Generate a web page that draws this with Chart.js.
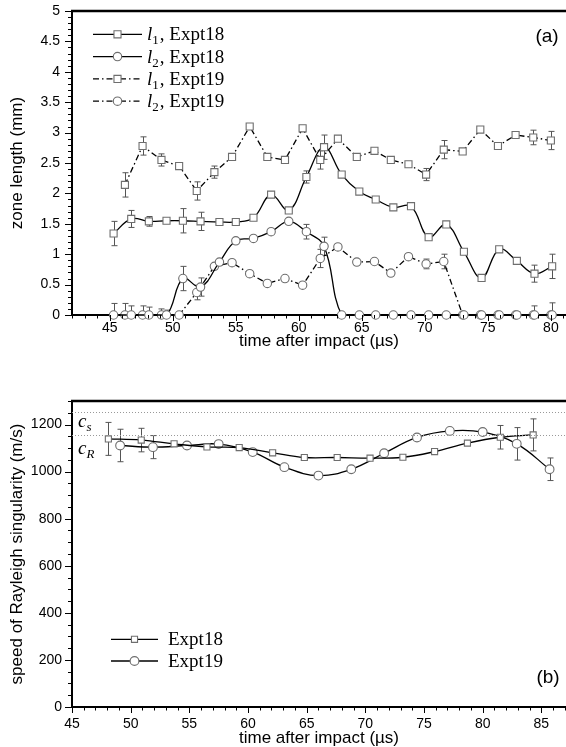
<!DOCTYPE html>
<html>
<head>
<meta charset="utf-8">
<script src="https://cdn.jsdelivr.net/npm/chart.js@4.4.1/dist/chart.umd.min.js"></script>
<style>
html,body{margin:0;padding:0;background:#fff;}
#wrap{position:relative;width:566px;height:747px;overflow:hidden;}
#ca{position:absolute;left:0;top:0;}
#cb{position:absolute;left:0;top:355px;}
</style>
</head>
<body>
<div id="wrap">
  <canvas id="ca" width="566" height="355"></canvas>
  <canvas id="cb" width="566" height="392"></canvas>
</div>
<script>
// ---------- panel (a): zone lengths ----------
const t18a = [45.3,46.7,48.1,49.5,50.8,52.2,53.7,55.0,56.4,57.8,59.2,60.6,62.0,63.4,64.8,66.1,67.5,68.9,70.3,71.7,73.1,74.5,75.9,77.3,78.7,80.1];
const l1_18 = [1.34,1.58,1.54,1.55,1.55,1.54,1.53,1.53,1.60,1.98,1.72,2.27,2.76,2.31,2.03,1.90,1.77,1.79,1.28,1.49,1.04,0.61,1.08,0.89,0.68,0.80];
const l1_18err = [0.2,0.14,0.08,0,0.2,0.15,0,0,0,0,0,0.1,0.2,0,0,0,0,0,0,0,0,0,0,0.05,0.14,0.2];
const l2_18 = [0,0,0,0,0.60,0.46,0.87,1.22,1.26,1.37,1.54,1.37,1.13,0,0,0,0,0,0,0,0,0,0,0,0,0];
const l2_18err = [0.19,0.15,0.13,0.08,0.2,0.15,0,0,0,0,0,0.12,0.15,0,0,0,0,0,0,0,0,0,0,0.05,0.15,0.2];

const t19a = [46.2,47.6,49.1,50.5,51.9,53.3,54.7,56.1,57.5,58.9,60.3,61.7,63.1,64.6,66.0,67.3,68.7,70.1,71.5,73.0,74.4,75.8,77.2,78.6,80.0];
const l1_19 = [2.14,2.78,2.55,2.45,2.04,2.35,2.60,3.10,2.60,2.55,3.07,2.55,2.90,2.60,2.70,2.55,2.48,2.31,2.72,2.69,3.05,2.78,2.96,2.92,2.87];
const l1_19err = [0.2,0.15,0.1,0,0.15,0.1,0,0,0,0,0,0.15,0,0,0,0,0,0.1,0.15,0,0,0,0,0.12,0.15];
const l2_19 = [0,0,0,0,0.37,0.80,0.86,0.68,0.52,0.60,0.49,0.93,1.12,0.87,0.88,0.69,0.96,0.84,0.88,0,0,0,0,0,0];
const l2_19err = [0.19,0.15,0.1,0,0.12,0,0,0,0,0,0,0.15,0,0,0,0,0,0.08,0.12,0,0,0,0,0,0];

// ---------- panel (b): Rayleigh singularity speed ----------
const t18b = [48.1,50.9,53.7,56.5,59.25,62.1,64.8,67.6,70.4,73.2,75.9,78.7,81.5,84.3];
const v18 = [1139,1134,1118,1105,1102,1080,1060,1060,1057,1061,1085,1121,1146,1156];
const v18err = [70,50,0,0,0,0,0,0,0,0,0,0,50,68];
const t19b = [49.1,51.9,54.8,57.5,60.4,63.1,66.0,68.8,71.6,74.4,77.2,80.0,82.9,85.7];
const v19 = [1111,1104,1111,1117,1083,1019,983,1010,1078,1145,1173,1168,1118,1010];
const v19err = [69,49,0,0,0,0,0,0,0,0,0,0,69,48];

const cS = 1255, cR = 1157;

const SANS = "'Liberation Sans', Arial, Helvetica, sans-serif";
const SERIF = "'Liberation Serif', 'Times New Roman', serif";
const DASHDOT = [6,3,1.5,3];

Chart.defaults.color = '#000';
Chart.defaults.font.family = SANS;

const range = (a,b,s) => { const r=[]; for(let v=a; v<=b+1e-9; v+=s) r.push(+v.toFixed(3)); return r; };

function series(label, xs, ys, errs, style, dash, tension, r){
  return {
    label, data: xs.map((x,i)=>({x, y: ys[i]})), errorBars: errs,
    borderColor:'#000', borderWidth:1.3, borderDash: dash, tension,
    pointStyle: style, pointRadius: r, pointBackgroundColor:'#fff',
    pointBorderColor:'#6e6e6e', pointBorderWidth:1.1, clip:false, fill:false
  };
}

// error bars, drawn under the lines and markers
const errorBars = {
  id:'errorBars',
  beforeDatasetsDraw(chart){
    const {ctx, chartArea:a, scales:{x, y}} = chart;
    ctx.save();
    ctx.beginPath(); ctx.rect(a.left, a.top-20, a.right-a.left, a.bottom-a.top+20); ctx.clip();
    ctx.strokeStyle = '#555'; ctx.lineWidth = 1;
    chart.data.datasets.forEach(d => {
      if(!d.errorBars) return;
      d.data.forEach((p,i) => {
        const e = d.errorBars[i]; if(!e) return;
        const px = Math.round(x.getPixelForValue(p.x))+0.5;
        const y1 = y.getPixelForValue(p.y+e), y2 = y.getPixelForValue(p.y-e);
        ctx.beginPath();
        ctx.moveTo(px,y1); ctx.lineTo(px,y2);
        ctx.moveTo(px-3,y1); ctx.lineTo(px+3,y1);
        ctx.moveTo(px-3,y2); ctx.lineTo(px+3,y2);
        ctx.stroke();
      });
    });
    ctx.restore();
  }
};

function drawRich(ctx, parts, x, y){
  parts.forEach(p => {
    const size = p.sub ? 13 : 19;
    ctx.font = (p.italic ? 'italic ' : '') + size + 'px ' + SERIF;
    ctx.fillText(p.t, x, y + (p.sub ? 4 : 0));
    x += ctx.measureText(p.t).width + (p.sub ? 1 : 0);
  });
}

function drawMarker(ctx, ds, x, y){
  ctx.save();
  ctx.setLineDash([]);
  ctx.fillStyle = '#fff'; ctx.strokeStyle = ds.pointBorderColor; ctx.lineWidth = ds.pointBorderWidth;
  ctx.beginPath();
  if(ds.pointStyle === 'rect'){
    const h = ds.pointRadius*Math.SQRT1_2;
    ctx.rect(x-h, y-h, 2*h, 2*h);
  } else {
    ctx.arc(x, y, ds.pointRadius, 0, Math.PI*2);
  }
  ctx.fill(); ctx.stroke();
  ctx.restore();
}

// tick marks, top frame, legend, labels
const deco = {
  id:'deco',
  afterDraw(chart, args, o){
    const {ctx, chartArea:a, scales:{x, y}} = chart;
    ctx.save();
    ctx.strokeStyle = '#000'; ctx.lineWidth = 1;
    ctx.beginPath();
    x.ticks.forEach(t => {
      const px = Math.round(x.getPixelForValue(t.value))+0.5;
      const len = t.label ? 6 : 3.5;
      ctx.moveTo(px, a.bottom); ctx.lineTo(px, a.bottom+len);
    });
    y.ticks.forEach(t => {
      const py = Math.round(y.getPixelForValue(t.value))+0.5;
      const len = t.label ? 7 : 4;
      ctx.moveTo(a.left-len, py); ctx.lineTo(a.left, py);
    });
    ctx.stroke();
    // top frame
    ctx.lineWidth = 2.5;
    ctx.beginPath(); ctx.moveTo(a.left-1, a.top); ctx.lineTo(a.right, a.top); ctx.stroke();

    // reference speed lines
    (o.refs||[]).forEach(r => {
      const py = Math.round(y.getPixelForValue(r.value))+0.5;
      ctx.save();
      ctx.strokeStyle = '#999'; ctx.lineWidth = 1; ctx.setLineDash([1,2]);
      ctx.beginPath(); ctx.moveTo(a.left, py); ctx.lineTo(a.right, py); ctx.stroke();
      ctx.restore();
      ctx.fillStyle = '#000'; ctx.textBaseline = 'alphabetic'; ctx.textAlign = 'left';
      drawRich(ctx, r.parts, a.left+6, py+r.dy);
    });

    // legend
    const L = o.legend;
    if(L){
      L.items.forEach((it,i) => {
        const ds = chart.data.datasets[it.ds];
        const ly = L.y + i*L.row;
        ctx.save();
        ctx.strokeStyle = ds.borderColor; ctx.lineWidth = ds.borderWidth;
        ctx.setLineDash(ds.borderDash || []);
        ctx.beginPath(); ctx.moveTo(L.x0, ly); ctx.lineTo(L.x1, ly); ctx.stroke();
        ctx.restore();
        drawMarker(ctx, ds, (L.x0+L.x1)/2, ly);
        ctx.fillStyle = '#000'; ctx.textAlign = 'left'; ctx.textBaseline = 'alphabetic';
        drawRich(ctx, it.parts, L.tx, ly+6);
      });
    }

    // panel tag
    ctx.fillStyle = '#000';
    ctx.font = '19px ' + SANS;
    ctx.textAlign = 'center'; ctx.textBaseline = 'middle';
    ctx.fillText(o.tag, o.tagX, o.tagY);
    ctx.restore();
  }
};

// keep the plot frame where the reference has it: no extra label padding
function noPad(s){ s.paddingTop = 0; s.paddingBottom = 0; s.paddingLeft = 0; s.paddingRight = 0; }

function axisX(min, max, padTicks, padTitle, height){
  return {
    type:'linear', min, max,
    afterBuildTicks: s => { s.ticks = range(Math.ceil(min), Math.floor(max), 1).map(v => ({value:v})); },
    afterFit: s => { s.height = height; noPad(s); },
    grid:{display:false, drawTicks:false},
    border:{display:true, color:'#000', width:2},
    ticks:{autoSkip:false, maxRotation:0, padding:padTicks, font:{size:14},
      callback: v => (Math.round(v) % 5 === 0) ? String(Math.round(v)) : ''},
    title:{display:true, text:'time after impact (\u00b5s)', font:{size:17}, padding:{top:0, bottom:padTitle}}
  };
}

function axisY(min, max, minor, major, text, padTicks){
  return {
    type:'linear', min, max,
    afterBuildTicks: s => { s.ticks = range(min, max, minor).map(v => ({value:v})); },
    afterFit: s => { s.width = 72; noPad(s); },
    grid:{display:false, drawTicks:false},
    border:{display:true, color:'#000', width:2},
    ticks:{autoSkip:false, padding:padTicks, font:{size:14},
      callback: v => { const k = Math.round(v/minor), m = Math.round(major/minor); return k % m === 0 ? String(+(k*minor).toFixed(2)) : ''; }},
    title:{display:true, text, font:{size:17}, padding:{top:7, bottom:0}}
  };
}

new Chart(document.getElementById('ca'), {
  type:'line',
  data:{datasets:[
    series('l1, Expt18', t18a, l1_18, l1_18err, 'rect', [], 0.4, 5),
    series('l2, Expt18', t18a, l2_18, l2_18err, 'circle', [], 0.4, 4.2),
    series('l1, Expt19', t19a, l1_19, l1_19err, 'rect', DASHDOT, 0, 5),
    series('l2, Expt19', t19a, l2_19, l2_19err, 'circle', DASHDOT, 0, 4.2)
  ]},
  options:{
    responsive:false, animation:false, events:[],
    layout:{autoPadding:false, padding:{top:11, right:0, left:0, bottom:0}},
    scales:{
      x: axisX(42, 81.2, 5, 3, 40),
      y: axisY(0, 5, 0.1, 0.5, 'zone length (mm)', 12)
    },
    plugins:{
      legend:{display:false}, tooltip:{enabled:false},
      deco:{
        tag:'(a)', tagX:547, tagY:37,
        legend:{x0:93, x1:142, tx:147, y:34.3, row:22.3, items:[
          {ds:0, parts:[{t:'l',italic:1},{t:'1',sub:1},{t:', Expt18'}]},
          {ds:1, parts:[{t:'l',italic:1},{t:'2',sub:1},{t:', Expt18'}]},
          {ds:2, parts:[{t:'l',italic:1},{t:'1',sub:1},{t:', Expt19'}]},
          {ds:3, parts:[{t:'l',italic:1},{t:'2',sub:1},{t:', Expt19'}]}
        ]}
      }
    }
  },
  plugins:[errorBars, deco]
});

new Chart(document.getElementById('cb'), {
  type:'line',
  data:{datasets:[
    series('Expt18', t18b, v18, v18err, 'rect', [], 0.4, 4.3),
    series('Expt19', t19b, v19, v19err, 'circle', [], 0.4, 4.4)
  ]},
  options:{
    responsive:false, animation:false, events:[],
    layout:{autoPadding:false, padding:{top:46, right:0, left:0, bottom:0}},
    scales:{
      x: axisX(45, 87.1, 9, -2, 40),
      y: axisY(0, 1300, 50, 200, 'speed of Rayleigh singularity (m/s)', 10)
    },
    plugins:{
      legend:{display:false}, tooltip:{enabled:false},
      deco:{
        tag:'(b)', tagX:548, tagY:323,
        refs:[
          {value:cS, dy:14.5, parts:[{t:'c',italic:1},{t:'s',italic:1,sub:1}]},
          {value:cR, dy:18, parts:[{t:'c',italic:1},{t:'R',italic:1,sub:1}]}
        ],
        legend:{x0:111, x1:158, tx:168, y:284.3, row:21.7, items:[
          {ds:0, parts:[{t:'Expt18'}]},
          {ds:1, parts:[{t:'Expt19'}]}
        ]}
      }
    }
  },
  plugins:[errorBars, deco]
});
</script>
</body>
</html>
